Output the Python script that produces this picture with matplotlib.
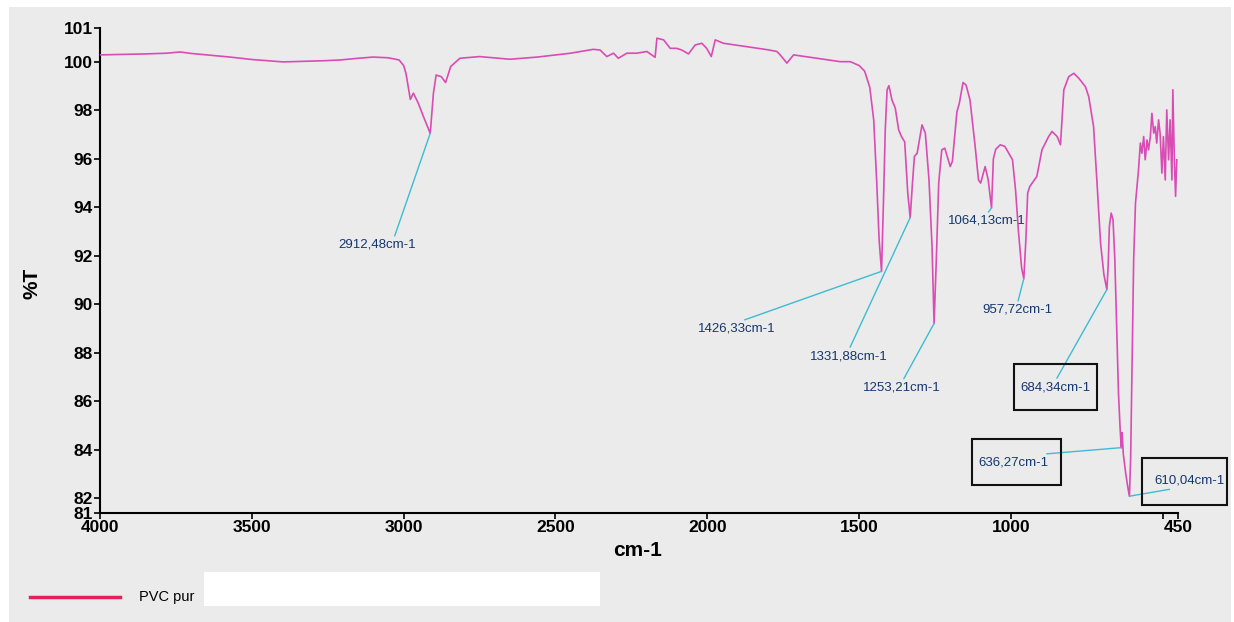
import matplotlib
matplotlib.use('Agg')
import matplotlib.pyplot as plt
from matplotlib.patches import Rectangle
from matplotlib.lines import Line2D
import numpy as np

plt.rcParams['font.family'] = ['Liberation Sans', 'DejaVu Sans']

# ---------------- data ----------------
wavenumber = [
    4000, 3920, 3850, 3780, 3736, 3700, 3640, 3572, 3500, 3440, 3397, 3340, 3260, 3209,
    3150, 3101, 3050, 3015, 3000, 2992, 2984, 2978, 2968, 2952, 2935, 2912.5, 2902, 2893,
    2876, 2862, 2845, 2815, 2750, 2650, 2560, 2450, 2375, 2353, 2331, 2309, 2293, 2265,
    2232, 2199, 2172, 2166, 2144, 2122, 2101, 2084, 2062, 2040, 2018, 2002, 1987, 1974,
    1947, 1870, 1800, 1771, 1760, 1738, 1716, 1639, 1562, 1529, 1500, 1482, 1465, 1452,
    1442, 1434, 1426.3, 1420, 1414, 1408, 1402, 1392, 1381, 1370, 1360, 1350, 1340, 1331.9,
    1325, 1318, 1309, 1293, 1282, 1270, 1260, 1253.2, 1246, 1238, 1228, 1218, 1200, 1193,
    1178, 1170, 1158, 1148, 1135, 1118, 1107, 1100, 1085, 1075, 1064.1, 1058, 1050, 1035,
    1020, 995, 985, 975, 965, 957.7, 951, 945, 938, 915, 898, 876, 865, 848, 837, 826,
    810, 793, 777, 755, 744, 728, 716, 705, 694, 684.3, 680, 676, 670, 664, 658, 652,
    646, 641, 638, 636.3, 634, 630, 622, 616, 610.0, 606, 601, 596, 590, 585, 580, 574,
    569, 563, 558, 552, 547, 541, 536, 530, 525, 520, 514, 509, 503, 498, 492, 487, 481,
    476, 470, 467, 462, 458, 454,
]
transmittance = [
    100.29, 100.31, 100.33, 100.36, 100.41, 100.35, 100.28, 100.20, 100.10, 100.04, 100.00,
    100.02, 100.05, 100.08, 100.15, 100.20, 100.17, 100.08, 99.85, 99.50, 98.90, 98.45,
    98.71, 98.30, 97.75, 97.05, 98.71, 99.46, 99.39, 99.15, 99.81, 100.15, 100.22, 100.11,
    100.20, 100.36, 100.52, 100.49, 100.22, 100.36, 100.15, 100.36, 100.36, 100.43, 100.19,
    100.98, 100.91, 100.56, 100.56, 100.49, 100.33, 100.70, 100.77, 100.56, 100.22, 100.91,
    100.77, 100.63, 100.50, 100.43, 100.29, 99.95, 100.29, 100.15, 100.01, 100.01, 99.85,
    99.62, 98.95, 97.60, 95.00, 92.60, 91.35, 94.20, 97.20, 98.85, 99.02, 98.43, 98.09,
    97.20, 96.90, 96.70, 94.60, 93.57, 94.90, 96.10, 96.23, 97.40, 97.06, 95.13, 92.38,
    89.20, 91.80, 95.00, 96.37, 96.44, 95.68, 95.90, 97.94, 98.30, 99.15, 99.05, 98.43,
    96.51, 95.13, 95.00, 95.68, 95.13, 93.97, 96.00, 96.40, 96.58, 96.51, 95.96, 94.72,
    92.94, 91.50, 91.05, 92.66, 94.59, 94.86, 95.27, 96.37, 96.92, 97.13, 96.92, 96.58,
    98.85, 99.39, 99.53, 99.33, 98.98, 98.57, 97.33, 94.86, 92.52, 91.22, 90.60, 91.56,
    93.21, 93.76, 93.48, 91.84, 89.08, 86.33, 84.96, 84.30, 84.07, 84.70, 83.80, 83.00,
    82.50, 82.07, 83.60, 87.71, 91.84, 94.17, 94.86, 95.55, 96.65, 96.23, 96.92, 95.96,
    96.78, 96.37, 96.92, 97.88, 97.06, 97.33, 96.65, 97.61, 97.06, 95.41, 96.92, 95.13,
    98.02, 95.96, 97.61, 95.13, 98.85, 95.96, 94.45, 95.96,
]

peak_wn = [2912.48, 1426.33, 1331.88, 1253.21, 1064.13, 957.72, 684.34, 636.27, 610.04]
peak_labels = ['2912,48cm-1', '1426,33cm-1', '1331,88cm-1', '1253,21cm-1', '1064,13cm-1',
               '957,72cm-1', '684,34cm-1', '636,27cm-1', '610,04cm-1']
label_wn = [3089, 1903, 1534, 1358, 1081, 979, 854, 992.5, 413]
label_T = [92.45, 88.99, 87.86, 86.56, 93.44, 89.77, 86.58, 83.46, 82.72]
label_relpos = [(0.72, 1), (0.5, 1), (0.5, 1), (0.5, 1), (0.5, 1), (0.5, 1), (0.5, 1),
                (0.5, 1), (0.45, 0)]
# framed labels: (wn_low, T_low, wn_width, T_height)
label_boxes = [(716, 85.65, 273, 1.86), (834, 82.52, 293.5, 1.93), (287.5, 81.69, 280, 1.98)]

x_ticks = [4000, 3500, 3000, 2500, 2000, 1500, 1000, 500, 450]
x_ticklabels = ['4000', '3500', '3000', '2500', '2000', '1500', '1000', '', '450']
y_ticks = [81.38, 82, 84, 86, 88, 90, 92, 94, 96, 98, 100, 101.40]
y_ticklabels = ['81', '82', '84', '86', '88', '90', '92', '94', '96', '98', '100', '101']

series_name = 'PVC pur'

# ---------------- figure ----------------
W, H = 1234, 622
fig = plt.figure(figsize=(W / 100, H / 100), dpi=100, facecolor='white')
fig.patches.append(Rectangle((9 / W, 0), (1231 - 9) / W, (H - 7) / H,
                             transform=fig.transFigure, facecolor='#ebebeb',
                             edgecolor='none', zorder=-10))

ax = fig.add_axes([100 / W, 1 - 513 / H, 1078 / W, 485 / H])
ax.patch.set_visible(False)

ax.plot(wavenumber, transmittance, color='#d94cb4', lw=1.2, zorder=3)

ax.set_xlim(4000, 450)
ax.set_ylim(81.38, 101.40)
ax.set_xticks(x_ticks)
ax.set_xticklabels(x_ticklabels)
ax.set_yticks(y_ticks)
ax.set_yticklabels(y_ticklabels)
for s in ['top', 'right']:
    ax.spines[s].set_visible(False)
for s in ['left', 'bottom']:
    ax.spines[s].set_linewidth(1.5)
ax.tick_params(axis='both', direction='out', length=4, width=1.2, pad=1,
               labelsize=12.5)
for lab in ax.get_xticklabels() + ax.get_yticklabels():
    lab.set_fontweight('bold')

wn_arr = np.array(wavenumber)[::-1]
t_arr = np.array(transmittance)[::-1]
for pw, txt, lw_, lt, rp in zip(peak_wn, peak_labels, label_wn, label_T, label_relpos):
    pt = np.interp(pw, wn_arr, t_arr)
    ax.annotate(txt, xy=(pw, pt), xytext=(lw_, lt), textcoords='data',
                ha='center', va='center', fontsize=9.5, color='#14366e',
                annotation_clip=False, zorder=4,
                arrowprops=dict(arrowstyle='-', color='#3cbcd4', lw=1.0,
                                shrinkA=0, shrinkB=0, relpos=rp))

for (bx, by, bw, bh) in label_boxes:
    ax.add_patch(Rectangle((bx, by), bw, bh, fill=False, edgecolor='#111111',
                           lw=1.5, clip_on=False, zorder=5))

fig.text(638 / W, 1 - 550 / H, 'cm-1', ha='center', va='center',
         fontsize=15, fontweight='bold')
fig.text(32 / W, 1 - 283 / H, '%T', ha='center', va='center', rotation=90,
         fontsize=15, fontweight='bold')

# legend
fig.add_artist(Line2D([30 / W, 120 / W], [1 - 597 / H, 1 - 597 / H],
                      transform=fig.transFigure, color='#e3225c', lw=2.5))
fig.text(139 / W, 1 - 597 / H, series_name, ha='left', va='center', fontsize=10.5)
fig.patches.append(Rectangle((204 / W, 1 - 606 / H), 396 / W, 34 / H,
                             transform=fig.transFigure, facecolor='white',
                             edgecolor='none', zorder=-5))

fig.savefig('out.png', dpi=100, facecolor=fig.get_facecolor())
